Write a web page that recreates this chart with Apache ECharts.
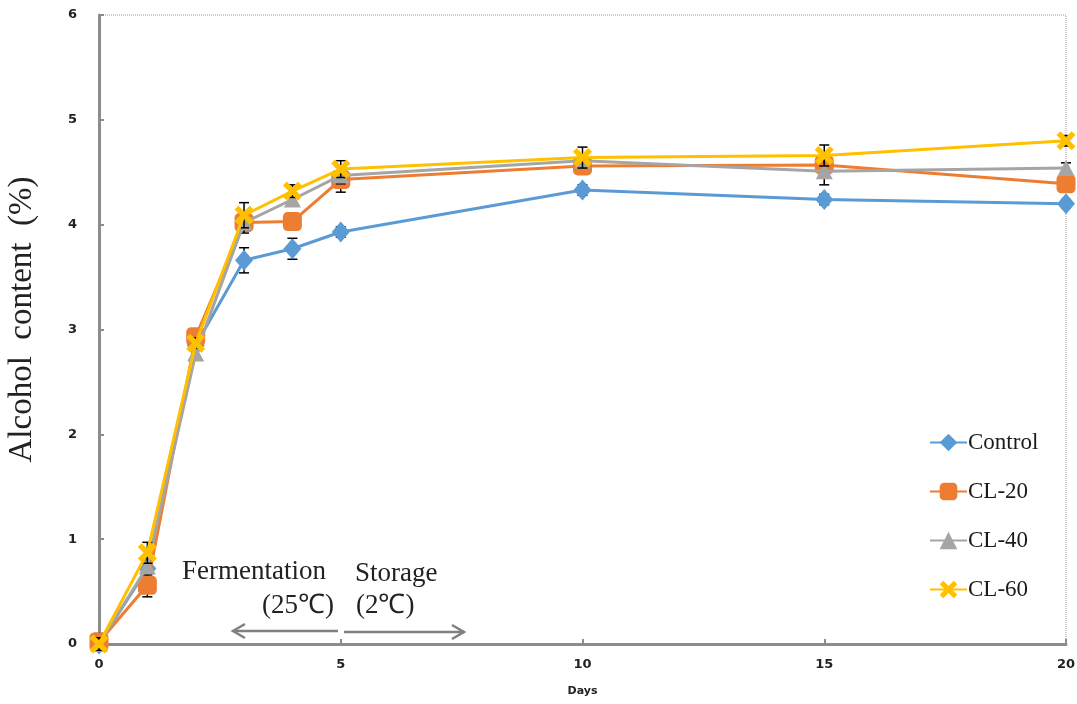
<!DOCTYPE html>
<html><head><meta charset="utf-8">
<script src="https://cdn.jsdelivr.net/npm/echarts@6/dist/echarts.min.js"></script>
<style>html,body{margin:0;padding:0;background:#fff}#c{width:1077px;height:704px}</style>
</head><body><div id="c"></div>
<script>
const days = [0, 1, 2, 3, 4, 5, 10, 15, 20];
const seriesNames = ['Control', 'CL-20', 'CL-40', 'CL-60'];
const control = [0.00, 0.72, 2.85, 3.66, 3.77, 3.93, 4.33, 4.24, 4.20];
const cl20    = [0.02, 0.56, 2.93, 4.02, 4.03, 4.43, 4.56, 4.57, 4.39];
const cl40    = [0.00, 0.74, 2.77, 4.02, 4.24, 4.47, 4.61, 4.51, 4.54];
const cl60    = [0.00, 0.87, 2.87, 4.09, 4.32, 4.53, 4.64, 4.66, 4.80];
const errControl = [0.05, 0.08, 0.05, 0.12, 0.10, 0.05, 0.05, 0.05, 0.04];
const errCL20    = [0.08, 0.11, 0.05, 0.08, 0.06, 0.12, 0.06, 0.07, 0.05];
const errCL40    = [0.05, 0.08, 0.05, 0.10, 0.06, 0.08, 0.06, 0.13, 0.05];
const errCL60    = [0.06, 0.10, 0.05, 0.12, 0.06, 0.08, 0.10, 0.10, 0.05];
const yTicks = [0, 1, 2, 3, 4, 5, 6];
const xTicks = [0, 5, 10, 15, 20];

const colors = ['#5B9BD5', '#ED7D31', '#A5A5A5', '#FFC000'];
const values = [control, cl20, cl40, cl60];
const errs = [errControl, errCL20, errCL40, errCL60];
const symbols = ['diamond', 'roundRect',
  'path://M5,0 L10,9 L0,9 Z',
  'path://M2,0 L5,3 L8,0 L10,2 L7,5 L10,8 L8,10 L5,7 L2,10 L0,8 L3,5 L0,2 Z'];
const sizes = [[18, 21], 19, [17, 16], 19];

const chart = echarts.init(document.getElementById('c'));
const series = [];
values.forEach((vals, i) => {
  series.push({
    name: 'err ' + seriesNames[i], type: 'custom', z: 3 + i * 2, silent: true,
    data: days.map((d, k) => [d, vals[k] - errs[i][k], vals[k] + errs[i][k]]),
    renderItem: (params, api) => {
      const lo = api.coord([api.value(0), api.value(1)]);
      const hi = api.coord([api.value(0), api.value(2)]);
      const w = 5;
      const st = { stroke: '#000', lineWidth: 1.5 };
      return { type: 'group', children: [
        { type: 'line', shape: { x1: lo[0], y1: lo[1], x2: hi[0], y2: hi[1] }, style: st },
        { type: 'line', shape: { x1: lo[0] - w, y1: lo[1], x2: lo[0] + w, y2: lo[1] }, style: st },
        { type: 'line', shape: { x1: hi[0] - w, y1: hi[1], x2: hi[0] + w, y2: hi[1] }, style: st }
      ]};
    }
  });
});
values.forEach((vals, i) => {
  series.push({
    name: seriesNames[i], type: 'line', z: 4 + i * 2,
    data: days.map((d, k) => [d, vals[k]]),
    symbol: symbols[i], symbolSize: sizes[i], showSymbol: true,
    lineStyle: { color: colors[i], width: 3 },
    itemStyle: { color: colors[i], borderWidth: 0 },
    emphasis: { disabled: true }
  });
});

chart.setOption({
  animation: false,
  color: colors,
  grid: { left: 99, right: 11, top: 15, bottom: 60, outerBoundsMode: 'none', containLabel: false,
    show: true, borderColor: '#9a9a9a', borderType: 'dotted', borderWidth: 1 },
  legend: {
    data: seriesNames,
    orient: 'vertical', left: 924, top: 426, itemGap: 26, itemWidth: 37, itemHeight: 22,
    textStyle: { fontFamily: 'Liberation Serif', fontSize: 23, color: '#1a1a1a', padding: [0, 0, 0, -4] }
  },
  xAxis: {
    type: 'value', min: 0, max: 20, interval: 5,
    name: 'Days', nameLocation: 'middle', nameGap: 42,
    nameTextStyle: { fontFamily: 'DejaVu Sans', fontWeight: 'bold', fontSize: 11, color: '#222' },
    axisLine: { show: true, onZero: false, lineStyle: { color: '#8c8c8c', width: 3 } },
    axisTick: { show: true, inside: true, length: 5, lineStyle: { color: '#8c8c8c', width: 2 } },
    axisLabel: { fontFamily: 'DejaVu Sans', fontWeight: 'bold', fontSize: 13, color: '#222', margin: 14,
      formatter: v => xTicks.includes(v) ? String(v) : '' },
    splitLine: { show: false }
  },
  yAxis: {
    type: 'value', min: 0, max: 6, interval: 1,
    name: 'Alcohol  content  (%)', nameLocation: 'middle', nameGap: 60, nameRotate: 90,
    nameTextStyle: { fontFamily: 'Liberation Serif', fontSize: 33, color: '#222', padding: [0, 0, 0, 20] },
    axisLine: { show: true, lineStyle: { color: '#8c8c8c', width: 3 } },
    axisTick: { show: true, inside: true, length: 5, lineStyle: { color: '#8c8c8c', width: 2 } },
    axisLabel: { fontFamily: 'DejaVu Sans', fontWeight: 'bold', fontSize: 13, color: '#222', margin: 22,
      formatter: v => yTicks.includes(v) ? String(v) : '' },
    splitLine: { show: false }
  },
  graphic: [
    { type: 'text', left: 182, top: 558, style: { text: 'Fermentation', font: '27px "Liberation Serif"', fill: '#222' } },
    { type: 'text', left: 262, top: 592, style: { text: '(25℃)', font: '27px "Liberation Serif"', fill: '#222' } },
    { type: 'text', left: 355, top: 560, style: { text: 'Storage', font: '27px "Liberation Serif"', fill: '#222' } },
    { type: 'text', left: 356, top: 592, style: { text: '(2℃)', font: '27px "Liberation Serif"', fill: '#222' } },
    { type: 'polyline', shape: { points: [[338, 631], [233, 631]] }, style: { stroke: '#808080', lineWidth: 2.5 } },
    { type: 'polyline', shape: { points: [[245, 624], [233, 631], [245, 638]] }, style: { stroke: '#808080', lineWidth: 2.5, fill: null } },
    { type: 'polyline', shape: { points: [[344, 632], [464, 632]] }, style: { stroke: '#808080', lineWidth: 2.5 } },
    { type: 'polyline', shape: { points: [[452, 625], [464, 632], [452, 639]] }, style: { stroke: '#808080', lineWidth: 2.5, fill: null } }
  ],
  series: series
});
</script></body></html>
